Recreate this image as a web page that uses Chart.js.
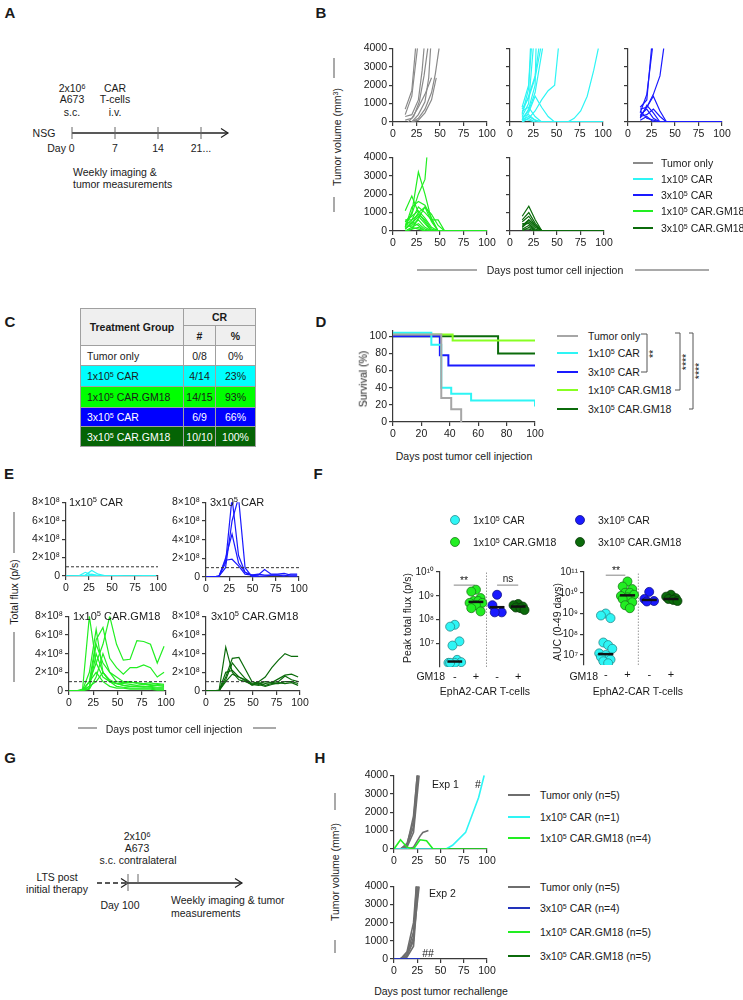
<!DOCTYPE html>
<html>
<head>
<meta charset="utf-8">
<script src="https://cdn.jsdelivr.net/npm/chart.js@4.4.1/dist/chart.umd.min.js"></script>
<style>
  body { margin: 0; background: #fff; }
  #page { position: relative; width: 743px; height: 1000px; overflow: hidden; font-family: 'Liberation Sans', Arial, sans-serif; color: #1a1a1a; }
  .t { position: absolute; white-space: nowrap; font-size: 10.5px; line-height: 1; }
  canvas { position: absolute; }
  sup { font-size: 0.68em; vertical-align: 0.45em; line-height: 0; }
  #tabla { position: absolute; left: 80px; top: 308px; border-collapse: collapse; font-size: 10.5px; }
  #tabla td, #tabla th { border: 1px solid #a0a0a0; padding: 0; text-align: center; }
  #tabla th { background: #efefef; font-weight: bold; }
  #tabla td:first-child { text-align: left; padding-left: 6px; }
  svg { position: absolute; left: 0; top: 0; }
</style>
</head>
<body>
<div id="page"></div>
<script>
// --- DATOS ---
const DAYS = [0, 7, 14, 21, 28, 35, 42, 49, 56, 63, 70, 77, 84, 91, 98];
const DAY_TICKS = [0, 25, 50, 75, 100];
const VOL_TICKS = [0, 1000, 2000, 3000, 4000];
const SURV_TICKS = [0, 20, 40, 60, 80, 100];
const FLUX_TICKS = [0, 2e8, 4e8, 6e8, 8e8];
const PEAK_TICKS = [1e7, 1e8, 1e9, 1e10];
const AUC_TICKS = [1e7, 1e8, 1e9, 1e10, 1e11];

// B: volumen tumoral (mm3), pares [día, volumen]
const volTumorOnly = [
  [[13, 700], [20, 1700], [24, 4000]],
  [[13, 400], [20, 1400], [26, 4000]],
  [[13, 300], [20, 400], [27, 1200], [31, 2800], [33, 4000]],
  [[16, 0], [22, 300], [28, 1100], [33, 2500], [37, 4000]],
  [[20, 0], [27, 400], [34, 1100], [38, 2400], [40, 4000]],
  [[20, 0], [27, 200], [34, 700], [41, 1600], [45, 2600], [49, 4000]],
  [[13, 100], [20, 200], [27, 800], [34, 1500], [41, 2400]],
  [[20, 0], [27, 100], [34, 500], [41, 1200], [46, 2400]]
];
const volCar1 = [
  [[13, 400], [20, 1800], [22, 4000]],
  [[13, 800], [20, 2000], [23, 4000]],
  [[13, 300], [20, 1000], [25, 4000]],
  [[13, 100], [20, 700], [27, 2000], [28, 4000]],
  [[13, 500], [20, 1400], [27, 2500], [31, 4000]],
  [[13, 200], [20, 600], [27, 1600], [33, 3400], [35, 4000]],
  [[13, 700], [20, 1300], [27, 2400], [33, 4000]],
  [[13, 0], [20, 200], [27, 600], [34, 1200], [41, 1700], [48, 2000], [52, 4000]],
  [[13, 0], [20, 500], [27, 1400], [34, 800], [41, 300], [48, 0], [100, 0]],
  [[13, 300], [20, 400], [27, 100], [34, 0], [100, 0]],
  [[13, 0], [20, 200], [27, 0], [100, 0]],
  [[13, 100], [20, 300], [27, 100], [34, 0], [62, 0], [69, 200], [76, 600], [83, 1400], [90, 2800], [95, 4000]],
  [[13, 200], [20, 100], [27, 0], [100, 0]],
  [[13, 600], [20, 800], [27, 300], [34, 0], [100, 0]]
];
const volCar3 = [
  [[13, 800], [20, 1200], [25, 4000]],
  [[13, 500], [20, 1500], [26, 4000]],
  [[13, 300], [20, 800], [27, 1500], [34, 2500], [38, 4000]],
  [[13, 700], [20, 800], [27, 1400], [34, 600], [41, 0], [100, 0]],
  [[13, 300], [20, 400], [27, 700], [34, 300], [41, 0], [100, 0]],
  [[13, 200], [20, 900], [27, 500], [34, 0], [100, 0]],
  [[13, 100], [20, 300], [27, 0], [100, 0]],
  [[13, 600], [20, 200], [27, 100], [34, 0], [100, 0]],
  [[13, 400], [20, 700], [27, 200], [34, 0], [100, 0]]
];
const volGm1 = [
  [[13, 500], [20, 900], [27, 2000], [34, 2800], [36, 4000]],
  [[13, 200], [20, 1000], [27, 3200], [34, 2000], [41, 600], [48, 0], [100, 0]],
  [[13, 1100], [20, 1900], [27, 1000], [34, 500], [41, 0], [100, 0]],
  [[13, 600], [20, 600], [27, 1300], [34, 1000], [41, 600], [48, 600], [55, 0], [100, 0]],
  [[13, 500], [20, 800], [27, 1100], [34, 700], [41, 200], [48, 0], [100, 0]],
  [[13, 300], [20, 600], [27, 900], [34, 600], [41, 100], [48, 0], [100, 0]],
  [[13, 100], [20, 400], [27, 800], [34, 400], [41, 0], [100, 0]],
  [[13, 200], [20, 300], [27, 600], [34, 200], [41, 0], [100, 0]],
  [[13, 0], [20, 200], [27, 400], [34, 100], [41, 0], [100, 0]],
  [[13, 100], [20, 500], [27, 300], [34, 0], [100, 0]],
  [[13, 400], [20, 200], [27, 100], [34, 0], [100, 0]],
  [[13, 0], [20, 100], [27, 700], [34, 1300], [41, 500], [48, 0], [100, 0]],
  [[13, 200], [20, 1300], [27, 1600], [34, 1400], [41, 700], [48, 0], [100, 0]],
  [[13, 500], [20, 400], [27, 1000], [34, 1300], [41, 900], [48, 300], [55, 0], [100, 0]],
  [[13, 0], [20, 100], [27, 200], [34, 0], [100, 0]]
];
const volGm3 = [
  [[13, 800], [20, 1350], [27, 600], [34, 0], [100, 0]],
  [[13, 600], [20, 1000], [27, 400], [34, 0], [100, 0]],
  [[13, 500], [20, 800], [27, 300], [34, 0], [100, 0]],
  [[13, 300], [20, 600], [27, 200], [34, 0], [100, 0]],
  [[13, 200], [20, 500], [27, 100], [34, 0], [100, 0]],
  [[13, 400], [20, 400], [27, 0], [100, 0]],
  [[13, 100], [20, 300], [27, 0], [100, 0]],
  [[13, 0], [20, 200], [27, 0], [100, 0]],
  [[13, 200], [20, 600], [27, 300], [34, 0], [100, 0]],
  [[13, 100], [20, 100], [27, 0], [100, 0]]
];

// C: tabla de respuesta completa
const tablaGrupos = ['Tumor only', '1x10<sup>5</sup> CAR', '1x10<sup>5</sup> CAR.GM18', '3x10<sup>5</sup> CAR', '3x10<sup>5</sup> CAR.GM18'];
const tablaCR = ['0/8', '4/14', '14/15', '6/9', '10/10'];
const tablaPct = ['0%', '23%', '93%', '66%', '100%'];

// D: supervivencia (%), pares [día, %] en cada caída
const survTumorOnly = [[0, 102], [34, 28], [41, 15], [48, 0]];
const survCar1 = [[0, 104], [27, 90], [34, 40], [41, 33], [55, 25], [100, 18]];
const survCar3 = [[0, 100], [33, 78], [39, 66], [100, 66]];
const survGm1 = [[0, 102], [42, 95], [100, 95]];
const survGm3 = [[0, 100], [74, 80], [100, 80]];

// E: flujo total (p/s) por semana (DAYS)
const fluxCar1 = [
  [0, 0, 2e6, 4e7, 1e7, 5e6, 3e6, 2e6, 2e6, 2e6, 2e6, 2e6, 2e6, 3e6, 3e6],
  [0, 0, 1e6, 1e7, 6e7, 2e7, 5e6, 3e6, 3e6, 2e6, 2e6, 2e6, 3e6, 5e6, 4e6],
  [0, 0, 1e6, 5e6, 2e7, 5e6, 2e6],
  [0, 0, 1e6, 3e6, 8e6, 3e6]
];
const fluxCar3 = [
  [0, 0, 1e7, 1.5e8, 8.5e8, 2.3e8, 5e7, 2e7, 2e7, 8e7, 3e7, 3e7, 4e7, 2e7, 2e7],
  [0, 0, 5e6, 2e8, 4.6e8, 1.5e8, 5e7, 2e7, 3e7, 2e7, 2e7, 2e7, 1e7, 3e7, 3e7],
  [0, 0, 1e7, 1.8e8, 1.9e8, 1.2e8, 3e7, 2e7, 1e7, 1e7, 2e7, 2e7, 2e7, 1e7, 1e7],
  [0, 0, 1e7, 1e8, 6e8, 8.5e8, 1e8, 1e7, 0]
];
const fluxGm1 = [
  [0, 0, 2e7, 8e8, 3e8, 1.5e8, 1e8, 8e7, 6e7, 5e7, 5e7, 4e7, 5e7, 4e7, 4e7],
  [0, 0, 1e7, 2e8, 6.6e8, 2e8, 1e8, 8e7, 8e7, 7e7, 6e7, 7e7, 6e7, 6e7, 5e7],
  [0, 0, 1e7, 1e8, 5.5e8, 6.8e8, 3.5e8, 2.5e8, 1.8e8, 2.5e8, 2.5e8, 2.8e8, 2.5e8, 1.5e8, 2e8],
  [0, 0, 5e6, 1e8, 3e8, 5e8, 8e8, 5e8, 3.3e8, 3.4e8, 5.4e8, 5.3e8, 5e8, 3e8, 4.8e8],
  [0, 0, 5e6, 5e7, 5e8, 3e8, 2e8, 1e8, 9e7, 9e7, 9e7, 8e7, 9e7, 7e7, 6e7],
  [0, 0, 5e6, 3e7, 4e8, 2e8, 1.2e8, 8e7, 6e7, 5e7, 5e7, 5e7, 4e7, 3e7, 3e7],
  [0, 0, 5e6, 2e7, 1.5e8, 4e8, 2e8, 1.5e8, 1e8, 1e8, 8e7, 7e7, 7e7, 8e7, 7e7],
  [0, 0, 5e6, 1e8, 2e8, 1e8, 5e7, 3e7, 3e7, 2e7, 2e7, 2e7, 2e7, 1e7, 1e7],
  [0, 0, 5e6, 5e7, 1e8, 2e8, 1e8, 5e7, 4e7, 3e7, 3e7, 3e7, 3e7, 2e7, 2e7]
];
const fluxGm3 = [
  [0, 0, 1e7, 4.7e8, 2e8, 1.2e8, 1e8, 7e7, 1e8, 1.5e8, 2.5e8, 3.3e8, 4e8, 3.7e8, 3.7e8],
  [0, 0, 5e6, 1.5e8, 3.5e8, 3.6e8, 2.3e8, 1e8, 8e7, 1e8, 9e7, 1.3e8, 1.7e8, 1.8e8, 1.5e8],
  [0, 0, 5e6, 2e8, 2.2e8, 1.5e8, 1.2e8, 7e7, 6e7, 8e7, 9e7, 1e8, 1.6e8, 1.2e8, 1e8],
  [0, 0, 5e6, 1.2e8, 3e8, 2.1e8, 1.3e8, 8e7, 7e7, 5e7, 7e7, 9e7, 8e7, 9e7, 6e7],
  [0, 0, 5e6, 1e8, 1.8e8, 1.5e8, 1.1e8, 6e7, 9e7, 6e7, 8e7, 8e7, 1e8, 1e8, 8e7]
];
const FLUX_LIMIT = 1e8;

// F: pico de flujo y AUC por ratón
const peakCar1 = [6e7, 5e7, 1.2e7, 8e6, 2e6, 1.6e6, 1.5e6, 1.5e6, 1.5e6];
const peakGm1 = [1.8e9, 1.5e9, 8e8, 6e8, 6e8, 5e8, 5e8, 4e8, 3e8, 2.2e8];
const peakCar3 = [1.1e9, 4e8, 2e8, 2e8];
const peakGm3 = [4.5e8, 4e8, 3.5e8, 3.2e8, 3e8, 2.5e8];
const peakMedian = [1.7e6, 5.5e8, 3.3e8, 3.5e8];
const aucCar1 = [1e9, 8e8, 6e8, 4e7, 3e7, 2e7, 1.2e7, 1e7, 8e6, 6e6, 5e6, 4e6];
const aucGm1 = [3.5e10, 2e10, 1.5e10, 1e10, 1e10, 8e9, 7e9, 6e9, 5e9, 3.5e9, 2.5e9, 1.8e9];
const aucCar3 = [1.1e10, 5e9, 4e9, 3.8e9];
const aucGm3 = [8e9, 6.5e9, 5.5e9, 5e9, 4.5e9, 4e9];
const aucMedian = [1.1e7, 7.5e9, 4.5e9, 5e9];
const GM18_LABELS = ['-', '+', '-', '+'];

// H: re-desafío tumoral, pares [día, volumen]
const rcTumorExp1 = [
  [[0, 0], [7, 0], [14, 300], [21, 1500], [25, 4000]],
  [[0, 0], [7, 0], [14, 200], [21, 1200], [26, 4000]],
  [[0, 0], [7, 0], [14, 100], [21, 900], [27, 4000]],
  [[0, 0], [7, 0], [14, 200], [21, 1800], [25, 4000]],
  [[14, 0], [21, 100], [28, 700], [31, 900], [37, 1000]]
];
const rcCar1Exp1 = [[0, 0], [56, 0], [63, 200], [77, 900], [91, 2800], [97, 4000]];
const rcGm1Exp1 = [[0, 0], [7, 500], [14, 100], [21, 0], [28, 500], [35, 450], [42, 0], [100, 0]];
const rcTumorExp2 = [
  [[0, 0], [7, 30], [14, 200], [21, 1000], [24, 4000]],
  [[0, 0], [7, 0], [14, 300], [21, 1500], [25, 4000]],
  [[0, 0], [7, 0], [14, 100], [21, 700], [26, 4000]],
  [[0, 0], [7, 0], [14, 400], [21, 2000], [24, 4000]],
  [[0, 0], [7, 0], [14, 150], [21, 1200], [27, 4000]]
];
const rcCar3Exp2 = [[0, 0], [7, 0], [14, 0], [21, 0], [28, 0]];
const rcGmExp2 = [[0, 0], [7, 0], [14, 0], [21, 0], [28, 0]];

// --- ESTILO ---
const FONT = "'Liberation Sans', Arial, sans-serif";
const AX = '#3a3a3a';
const COL = { tumor: '#8a8a8a', car1: '#2ef5f5', car3: '#1a1aff', gm1: '#22ee22', gm3: '#0b6b0b', gmLight: '#88ff22', rcTumor: '#6e6e6e', rcCar3: '#2233bb' };

const page = document.getElementById('page');

function texto(x, y, html, o = {}) {
  const d = document.createElement('div');
  d.className = 't';
  d.innerHTML = html;
  d.style.left = x + 'px';
  d.style.top = y + 'px';
  if (o.size) d.style.fontSize = o.size + 'px';
  if (o.bold) d.style.fontWeight = 'bold';
  if (o.color) d.style.color = o.color;
  let tr = o.align === 'l' ? 'translate(0,-50%)' : o.align === 'r' ? 'translate(-100%,-50%)' : 'translate(-50%,-50%)';
  if (o.rot) tr += ' rotate(-90deg)';
  d.style.transform = tr;
  page.appendChild(d);
}

function escala(min, max, ticks, fmt, o = {}) {
  return {
    type: o.log ? 'logarithmic' : 'linear',
    min, max,
    afterBuildTicks: s => { s.ticks = ticks.map(v => ({ value: v })); },
    border: { display: o.border !== false, color: AX, width: 1.2 },
    grid: { drawOnChartArea: false, drawTicks: o.tick !== false, tickLength: 4, color: AX, lineWidth: 1.2 },
    ticks: { color: '#1a1a1a', font: { family: FONT, size: o.fs || 10.5 }, padding: o.pad ?? 2, maxRotation: 0, autoSkip: false, callback: v => fmt(v) }
  };
}

function grafico(x0, y0, w, h, datasets, sx, sy, pad = {}) {
  const L = pad.l ?? 34, B = pad.b ?? 18, T = pad.t ?? 8, R = pad.r ?? 12;
  const cv = document.createElement('canvas');
  cv.width = w + L + R;
  cv.height = h + T + B;
  cv.style.left = (x0 - L) + 'px';
  cv.style.top = (y0 - T) + 'px';
  page.appendChild(cv);
  sx.position = 'bottom'; sx.afterFit = s => { s.height = B; };
  sy.position = 'left'; sy.afterFit = s => { s.width = L; };
  return new Chart(cv, {
    type: 'line',
    data: { datasets },
    options: {
      responsive: false, animation: false, devicePixelRatio: 1,
      layout: { padding: { top: T, right: R, left: 0, bottom: 0 } },
      plugins: { legend: { display: false }, tooltip: { enabled: false } },
      scales: { x: sx, y: sy }
    }
  });
}

const pares = l => l.map(([x, y]) => ({ x, y }));
const porDia = l => l.map((y, i) => ({ x: DAYS[i], y }));
const lineas = (listas, color, ancho = 1.2, fn = pares) =>
  listas.map(l => ({ data: fn(l), borderColor: color, borderWidth: ancho, pointRadius: 0, tension: 0 }));

const num = v => String(v);
const vacio = () => '';
const sup = { '0': '⁰', '1': '¹', '2': '²', '3': '³', '4': '⁴', '5': '⁵', '6': '⁶', '7': '⁷', '8': '⁸', '9': '⁹' };
const pot10 = v => '10' + String(Math.round(Math.log10(v))).split('').map(c => sup[c]).join('');
const fluxFmt = v => v === 0 ? '0' : (v / 1e8) + '×10⁸';

// --- PANEL LABELS ---
[['A', 10, 12], ['B', 321, 12], ['C', 10, 321], ['D', 321, 321], ['E', 9, 473], ['F', 318, 473], ['G', 10, 757], ['H', 320, 757]]
  .forEach(([s, x, y]) => texto(x, y, s, { bold: true, size: 15 }));

// --- LINEAS DECORATIVAS (timelines, titulos, corchetes) ---
const svgNS = 'http://www.w3.org/2000/svg';
const svg = document.createElementNS(svgNS, 'svg');
svg.setAttribute('width', 743); svg.setAttribute('height', 1000);
page.appendChild(svg);
function seg(pts, color = '#222', w = 1.2, dash) {
  const p = document.createElementNS(svgNS, 'polyline');
  p.setAttribute('points', pts.map(q => q.join(',')).join(' '));
  p.setAttribute('fill', 'none'); p.setAttribute('stroke', color); p.setAttribute('stroke-width', w);
  if (dash) p.setAttribute('stroke-dasharray', dash);
  svg.appendChild(p);
}
// A
seg([[72, 133], [228, 133]], '#222', 1.3);
seg([[221, 128.5], [228, 133], [221, 137.5]], '#222', 1.2);
[72, 115, 158, 201].forEach(x => seg([[x, 127], [x, 139]], '#666', 1));
// G
seg([[97, 883], [127, 883]], '#222', 1.3, '5 3');
seg([[121, 878.5], [128, 883], [121, 887.5]], '#222', 1.2);
seg([[128, 883], [242, 883]], '#222', 1.3);
seg([[235, 878.5], [242, 883], [235, 887.5]], '#222', 1.2);
seg([[128, 874], [128, 891]], '#666', 1);
seg([[138, 874], [138, 883]], '#666', 1);
// barras de titulos compartidos
const GR = '#8c8c8c';
seg([[334, 58], [334, 78]], GR, 1.5); seg([[334, 197], [334, 212]], GR, 1.5);
seg([[417, 270], [477, 270]], GR, 1.5); seg([[635, 270], [709, 270]], GR, 1.5);
seg([[14, 512], [14, 553]], GR, 1.5); seg([[14, 632], [14, 682]], GR, 1.5);
seg([[78, 728], [97, 728]], GR, 1.5); seg([[253, 728], [276, 728]], GR, 1.5);
seg([[335, 793], [335, 810]], GR, 1.5); seg([[335, 940], [335, 953]], GR, 1.5);
// corchetes D
seg([[641, 334], [647, 334], [647, 372], [641, 372]], '#555', 1);
seg([[675, 333], [680, 333], [680, 390], [675, 390]], '#555', 1);
seg([[689, 333], [693, 333], [693, 409], [689, 409]], '#555', 1);

// --- A: timeline ---
[['2x10<sup>6</sup>', 72, 88], ['A673', 72, 99], ['s.c.', 72, 112], ['CAR', 115, 88], ['T-cells', 115, 99], ['i.v.', 115, 112],
 ['NSG', 44, 133], ['Day 0', 61, 148], ['7', 115, 148], ['14', 158, 148], ['21...', 201, 148]]
  .forEach(([s, x, y]) => texto(x, y, s));
texto(73, 172, 'Weekly imaging &', { align: 'l' });
texto(73, 184, 'tumor measurements', { align: 'l' });

// --- B: volumen tumoral ---
const volX = () => escala(0, 100, DAY_TICKS, num);
grafico(393, 48, 94, 74, lineas(volTumorOnly, COL.tumor), volX(), escala(0, 4000, VOL_TICKS, num));
grafico(510, 48, 93, 74, lineas(volCar1, COL.car1), volX(), escala(0, 4000, VOL_TICKS, vacio));
grafico(628, 48, 94, 74, lineas(volCar3, COL.car3), volX(), escala(0, 4000, VOL_TICKS, vacio));
grafico(393, 157, 94, 74, lineas(volGm1, COL.gm1), volX(), escala(0, 4000, VOL_TICKS, num));
grafico(510, 157, 94, 74, lineas(volGm3, COL.gm3), volX(), escala(0, 4000, VOL_TICKS, vacio));
texto(337, 137, 'Tumor volume (mm<sup>3</sup>)', { rot: true });
texto(555, 270, 'Days post tumor cell injection');
const legB = [['Tumor only', COL.tumor], ['1x10<sup>5</sup> CAR', COL.car1], ['3x10<sup>5</sup> CAR', COL.car3],
              ['1x10<sup>5</sup> CAR.GM18', COL.gm1], ['3x10<sup>5</sup> CAR.GM18', COL.gm3]];
[163, 179, 195, 211, 228].forEach((y, i) => {
  seg([[633, y], [653, y]], legB[i][1], 2);
  texto(661, y, legB[i][0], { align: 'l' });
});

// --- C: tabla ---
const tabla = document.createElement('table');
tabla.id = 'tabla';
const fondos = ['#ffffff', '#00ffff', '#00ff00', '#0000ff', '#056405'];
const letras = ['#1a1a1a', '#1a1a1a', '#1a1a1a', '#ffffff', '#ffffff'];
const altos = [20, 21, 21, 19, 20];
let html = '<tr style="height:17px"><th rowspan="2" style="width:102px">Treatment Group</th><th colspan="2">CR</th></tr>' +
           '<tr style="height:20px"><th style="width:31px">#</th><th style="width:39px">%</th></tr>';
tablaGrupos.forEach((g, i) => {
  html += `<tr style="height:${altos[i]}px;background:${fondos[i]};color:${letras[i]}"><td>${g}</td><td>${tablaCR[i]}</td><td>${tablaPct[i]}</td></tr>`;
});
tabla.innerHTML = html;
page.appendChild(tabla);

// --- D: supervivencia ---
const survDs = [[survTumorOnly, '#a6a6a6'], [survCar1, COL.car1], [survCar3, COL.car3], [survGm1, COL.gmLight], [survGm3, COL.gm3]]
  .map(([d, c]) => ({ data: pares(d), borderColor: c, borderWidth: 2, pointRadius: 0, stepped: true }));
grafico(393, 330, 142, 92, survDs, escala(0, 100, [0, 20, 40, 60, 80, 100], num), escala(0, 107, SURV_TICKS, num), { l: 32 });
texto(363, 379, 'Survival (%)', { rot: true });
texto(464, 456, 'Days post tumor cell injection');
const legD = [['Tumor only', '#a6a6a6'], ['1x10<sup>5</sup> CAR', COL.car1], ['3x10<sup>5</sup> CAR', COL.car3],
              ['1x10<sup>5</sup> CAR.GM18', COL.gmLight], ['3x10<sup>5</sup> CAR.GM18', COL.gm3]];
[336, 353, 372, 390, 409].forEach((y, i) => {
  seg([[557, y], [578, y]], legD[i][1], 2);
  texto(588, y, legD[i][0], { align: 'l' });
});
texto(653, 354, '**', { rot: true });
texto(686, 362, '****', { rot: true });
texto(699, 371, '****', { rot: true });

// --- E: flujo total ---
const limite = { data: [{ x: 0, y: FLUX_LIMIT }, { x: 100, y: FLUX_LIMIT }], borderColor: '#333', borderWidth: 1, borderDash: [3, 2], pointRadius: 0 };
const fluxPanel = (x0, y0, w, h, series, color) =>
  grafico(x0, y0, w, h, [limite, ...lineas(series, color, 1.2, porDia)], escala(0, 100, DAY_TICKS, num), escala(0, 8e8, FLUX_TICKS, fluxFmt), { l: 40 });
fluxPanel(66, 502, 92, 74, fluxCar1, COL.car1);
fluxPanel(206, 502, 93, 75, fluxCar3, COL.car3);
fluxPanel(69, 616, 97, 75, fluxGm1, COL.gm1);
fluxPanel(206, 616, 94, 75, fluxGm3, COL.gm3);
texto(69, 502, '1x10<sup>5</sup> CAR', { align: 'l', size: 11 });
texto(210, 502, '3x10<sup>5</sup> CAR', { align: 'l', size: 11 });
texto(73, 616, '1x10<sup>5</sup> CAR.GM18', { align: 'l', size: 11 });
texto(211, 616, '3x10<sup>5</sup> CAR.GM18', { align: 'l', size: 11 });
texto(14, 592, 'Total flux (p/s)', { rot: true });
texto(174, 729, 'Days post tumor cell injection');

// --- F: dispersión log ---
const grupoF = [[COL.car1, '#2a8a8a'], [COL.gm1, '#1a7a1a'], [COL.car3, '#10108a'], [COL.gm3, '#0a3a0a']];
function puntos(vals, pos, [fill, line]) {
  const orden = vals.map((v, i) => [v, i]).sort((a, b) => b[0] - a[0]);
  const off = [0, -0.22, 0.22, -0.11, 0.11, 0.3, -0.3];
  return {
    data: orden.map(([v], k) => ({ x: pos + off[k % off.length], y: v })),
    showLine: false, pointRadius: 4.5, pointBackgroundColor: fill, pointBorderColor: line, pointBorderWidth: 0.8
  };
}
const mediana = (m, pos) => ({ data: [{ x: pos - 0.35, y: m }, { x: pos + 0.35, y: m }], borderColor: '#111', borderWidth: 2.5, pointRadius: 0 });
const linea = (pts, color, w, dash) => ({ data: pares(pts), borderColor: color, borderWidth: w, borderDash: dash || [], pointRadius: 0 });
function dispersion(x0, y0, w, h, min, max, ticks, series, med, xmin, xmax, corchetes) {
  const ds = [];
  series.forEach((s, i) => ds.push(mediana(med[i], i + 1)));
  series.forEach((s, i) => ds.push(puntos(s, i + 1, grupoF[i])));
  ds.push(linea([[2.5, min], [2.5, max]], '#999', 1, [1.5, 1.5]));
  corchetes.forEach(c => ds.push(linea(c, '#999', 1.2)));
  const sx = escala(xmin, xmax, [1, 2, 3, 4], v => GM18_LABELS[v - 1] || '', { border: false, tick: false, pad: 3, fs: 11 });
  const sy = escala(min, max, ticks, pot10, { log: true, fs: 10 });
  grafico(x0, y0, w, h, ds, sx, sy, { l: 32, b: 18 });
}
dispersion(440, 572, 93, 95, 1e6, 1e10, PEAK_TICKS, [peakCar1, peakGm1, peakCar3, peakGm3], peakMedian, 0.3, 4.7,
  [[[0.95, 2.8e9], [1.95, 2.8e9]], [[3.0, 2.8e9], [4.0, 2.8e9]]]);
dispersion(584, 572, 100, 93, 3.3e6, 1e11, AUC_TICKS, [aucCar1, aucGm1, aucCar3, aucGm3], aucMedian, 0, 4.6,
  [[[1.0, 7e10], [1.9, 7e10]]]);
texto(464, 580, '**');
texto(508, 579, 'ns', { size: 10 });
texto(616, 570, '**');
texto(407, 618, 'Peak total flux (p/s)', { rot: true });
texto(557, 622, 'AUC (0-49 days)', { rot: true });
texto(445, 676, 'GM18', { align: 'r' });
texto(598, 676, 'GM18', { align: 'r' });
texto(485, 691, 'EphA2-CAR T-cells');
texto(638, 691, 'EphA2-CAR T-cells');
const legF = [['1x10<sup>5</sup> CAR', 455, 520, 0], ['3x10<sup>5</sup> CAR', 580, 520, 2], ['1x10<sup>5</sup> CAR.GM18', 455, 542, 1], ['3x10<sup>5</sup> CAR.GM18', 580, 542, 3]];
legF.forEach(([s, x, y, g]) => {
  const c = document.createElementNS(svgNS, 'circle');
  c.setAttribute('cx', x); c.setAttribute('cy', y); c.setAttribute('r', 4.5);
  c.setAttribute('fill', grupoF[g][0]); c.setAttribute('stroke', grupoF[g][1]); c.setAttribute('stroke-width', 0.8);
  svg.appendChild(c);
  texto(x + 18, y, s, { align: 'l' });
});

// --- G: timeline re-desafío ---
[['2x10<sup>6</sup>', 137, 836], ['A673', 137, 848], ['s.c. contralateral', 138, 860], ['LTS post', 57, 877], ['initial therapy', 57, 889], ['Day 100', 120, 905]]
  .forEach(([s, x, y]) => texto(x, y, s));
texto(171, 900, 'Weekly imaging &amp; tumor', { align: 'l' });
texto(171, 913, 'measurements', { align: 'l' });

// --- H: re-desafío ---
const h1 = [...lineas([rcGm1Exp1], COL.gm1, 1.6), ...lineas([rcCar1Exp1], COL.car1, 1.6), ...lineas(rcTumorExp1, COL.rcTumor, 1.6)];
grafico(394, 775, 93, 74, h1, escala(0, 100, DAY_TICKS, num), escala(0, 4000, VOL_TICKS, num));
const h2 = [...lineas([rcCar3Exp2], COL.rcCar3, 2), ...lineas([rcGmExp2], COL.gm3, 1.6), ...lineas(rcTumorExp2, COL.rcTumor, 1.6)];
grafico(394, 886, 93, 73, h2, escala(0, 100, DAY_TICKS, num), escala(0, 4000, VOL_TICKS, num));
texto(432, 784, 'Exp 1', { align: 'l' });
texto(478, 784, '#');
texto(429, 893, 'Exp 2', { align: 'l' });
texto(428, 953, '##');
texto(335, 872, 'Tumor volume (mm<sup>3</sup>)', { rot: true });
texto(441, 991, 'Days post tumor rechallenge');
const legH = [['Tumor only (n=5)', COL.rcTumor, 795], ['1x10<sup>5</sup> CAR (n=1)', COL.car1, 817], ['1x10<sup>5</sup> CAR.GM18 (n=4)', COL.gm1, 838],
              ['Tumor only (n=5)', COL.rcTumor, 887], ['3x10<sup>5</sup> CAR (n=4)', COL.rcCar3, 908], ['1x10<sup>5</sup> CAR.GM18 (n=5)', COL.gm1, 932], ['3x10<sup>5</sup> CAR.GM18 (n=5)', COL.gm3, 956]];
legH.forEach(([s, c, y]) => {
  seg([[508, y], [530, y]], c, 2);
  texto(540, y, s, { align: 'l' });
});
</script>
</body>
</html>
